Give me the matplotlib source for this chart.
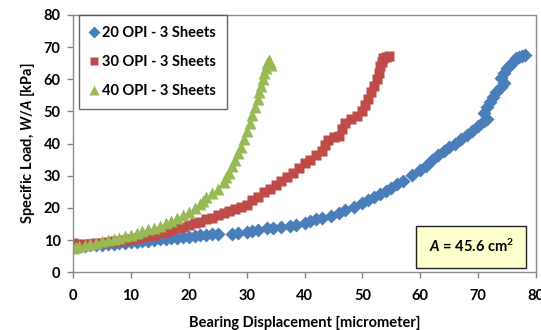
import matplotlib
matplotlib.use("Agg")
import matplotlib.pyplot as plt

plt.rcParams["font.family"] = ["Lato", "DejaVu Sans"]
plt.rcParams["font.weight"] = "bold"
plt.rcParams["mathtext.fontset"] = "custom"
plt.rcParams["mathtext.it"] = "Lato:italic:bold"
plt.rcParams["mathtext.rm"] = "Lato:bold"
plt.rcParams["mathtext.bf"] = "Lato:bold"

# 20 OPI - 3 sheets
disp_20 = [0, 0.5, 1, 2, 3, 4, 5, 6, 7, 8, 9, 10, 11, 12, 13, 14, 15, 16, 17, 18,
           19, 20, 21, 22, 23, 24, 25, 27.5, 28.5, 30, 31, 32, 33.5, 34.5, 36, 37.5,
           38.5, 40, 41, 42, 43, 44.5, 46, 47, 48.5, 50, 51, 52, 53, 54, 55, 56, 57,
           58.5, 60, 61, 62, 63, 64, 65, 66, 67, 68, 69, 70, 71, 71.5, 71, 71.5, 72,
           72.5, 73, 74, 74.5, 74, 74.5, 75, 75.5, 76, 76.5, 77, 77.5, 78]
load_20 = [8.0, 8.1, 8.2, 8.3, 8.4, 8.5, 8.6, 8.7, 8.9, 9.0, 9.2, 9.3, 9.5, 9.6, 9.8,
           10.0, 10.2, 10.4, 10.5, 10.7, 10.9, 11.1, 11.3, 11.5, 11.6, 11.8, 12.0,
           12.0, 12.2, 12.6, 12.9, 13.1, 13.6, 13.8, 14.1, 14.5, 14.8, 15.3, 15.9,
           16.4, 17.0, 17.6, 18.5, 19.2, 20.3, 21.5, 22.3, 23.5, 24.3, 25.3, 26.3,
           27.4, 28.4, 30.2, 31.8, 33.0, 35.0, 36.3, 37.6, 38.8, 40.0, 41.5, 42.8,
           44.0, 45.6, 47.0, 47.5, 49.5, 51.5, 53.0, 54.5, 56.0, 57.5, 58.8, 60.5,
           62.0, 63.5, 64.5, 65.5, 66.5, 67.0, 67.3, 67.5]

# 30 OPI - 3 sheets
disp_30 = [0, 0, 0.5, 1, 2, 3, 4, 5, 6, 7, 8, 9, 10, 11, 12, 13, 14, 15, 16, 17, 18,
           19, 20, 21, 22, 23, 24, 25, 26, 27, 28, 29, 30, 31, 32, 33, 34, 35, 36, 37,
           38, 39, 40, 41, 42, 43, 43.5, 44, 45, 46, 46.5, 47, 48, 49, 50, 50.5, 51,
           51.5, 52, 52.5, 52.8, 53, 53.3, 53.5, 54, 54.5]
load_30 = [8.5, 9.2, 8.7, 8.6, 8.7, 8.8, 9.0, 9.2, 9.4, 9.6, 9.8, 10.0, 10.2, 10.5,
           10.9, 11.3, 11.7, 12.2, 12.6, 13.1, 13.6, 14.1, 14.6, 15.2, 15.7, 16.4,
           17.0, 17.8, 18.4, 19.0, 19.6, 20.3, 21.0, 22.3, 23.5, 24.8, 25.9, 27.0,
           28.4, 29.7, 31.0, 32.3, 33.8, 35.0, 36.3, 37.8, 39.5, 41.0, 42.0, 42.3,
           44.5, 46.5, 47.5, 48.5, 50.0, 52.0, 54.0, 56.0, 58.0, 60.0, 62.0, 64.0,
           65.5, 66.5, 67.0, 67.2]

# 40 OPI - 3 sheets
disp_40 = [0, 0.5, 1, 2, 3, 4, 5, 6, 7, 8, 9, 10, 11, 12, 13, 14, 15, 16, 17, 18, 19,
           20, 21, 22, 22.5, 23, 24, 25, 26, 26.5, 27, 27.5, 28, 28.5, 29, 29.5, 30,
           30.5, 31, 31.5, 32, 32.2, 32.5, 32.8, 33, 33.3, 33.5, 33.8, 34, 34.2]
load_40 = [7.5, 8.0, 8.3, 8.6, 8.9, 9.2, 9.6, 10.0, 10.4, 10.8, 11.2, 11.7, 12.2,
           12.8, 13.3, 13.9, 14.5, 15.2, 16.0, 16.8, 17.8, 18.8, 20.0, 21.2, 22.2,
           23.3, 24.6, 26.0, 28.0, 29.5, 31.0, 33.0, 35.0, 37.0, 39.0, 41.5, 44.0,
           46.5, 49.0, 51.5, 54.0, 56.0, 58.0, 60.0, 62.0, 63.5, 65.0, 66.0, 65.5, 64.5]

series_labels = ["20 OPI - 3 Sheets", "30 OPI - 3 Sheets", "40 OPI - 3 Sheets"]
area_text = "$A$ = 45.6 cm$^2$"

fig = plt.figure(figsize=(5.41, 3.30), dpi=100)
ax = fig.add_axes([0.135, 0.175, 0.856, 0.78])

ax.plot(disp_20, load_20, linestyle="none", marker="D", ms=7.2,
        color="#4A7EBB", mec="none", label=series_labels[0])
ax.plot(disp_30, load_30, linestyle="none", marker="s", ms=7.3,
        color="#BE4B48", mec="none", label=series_labels[1])
ax.plot(disp_40, load_40, linestyle="none", marker="^", ms=9.0,
        color="#98B954", mec="none", label=series_labels[2])

ax.set_xlim(0, 80)
ax.set_ylim(0, 80)
ax.set_xticks(range(0, 81, 10))
ax.set_yticks(range(0, 81, 10))
ax.tick_params(direction="out", length=4, width=1, color="#808080",
               labelsize=10.5)
ax.tick_params(axis="x", pad=8)
ax.tick_params(axis="y", pad=5)
for lab in ax.get_xticklabels() + ax.get_yticklabels():
    lab.set_fontweight("bold")
for sp in ax.spines.values():
    sp.set_color("#8C8C8C")
    sp.set_linewidth(1)

ax.set_xlabel("Bearing Displacement [micrometer]", fontsize=10.5,
              fontweight="bold", labelpad=9)
ax.set_ylabel("Specific Load, $W/A$ [kPa]", fontsize=10.5,
              fontweight="bold", labelpad=5)

leg = ax.legend(loc="upper left", bbox_to_anchor=(0.013, 1.0),
                borderaxespad=0, fancybox=False, frameon=True,
                handlelength=0.6, handletextpad=0.25, labelspacing=1.05,
                borderpad=0.75, markerscale=0.85,
                prop={"weight": "bold", "size": 10.5})
leg.get_frame().set_edgecolor("#404040")
leg.get_frame().set_linewidth(1)

ax.text(68.8, 7.9, area_text, ha="center", va="center", fontsize=10.5,
        fontweight="bold",
        bbox=dict(boxstyle="square,pad=0.85", fc="#FFFFCC", ec="#202020", lw=1))

fig.savefig("out.png", dpi=100)
